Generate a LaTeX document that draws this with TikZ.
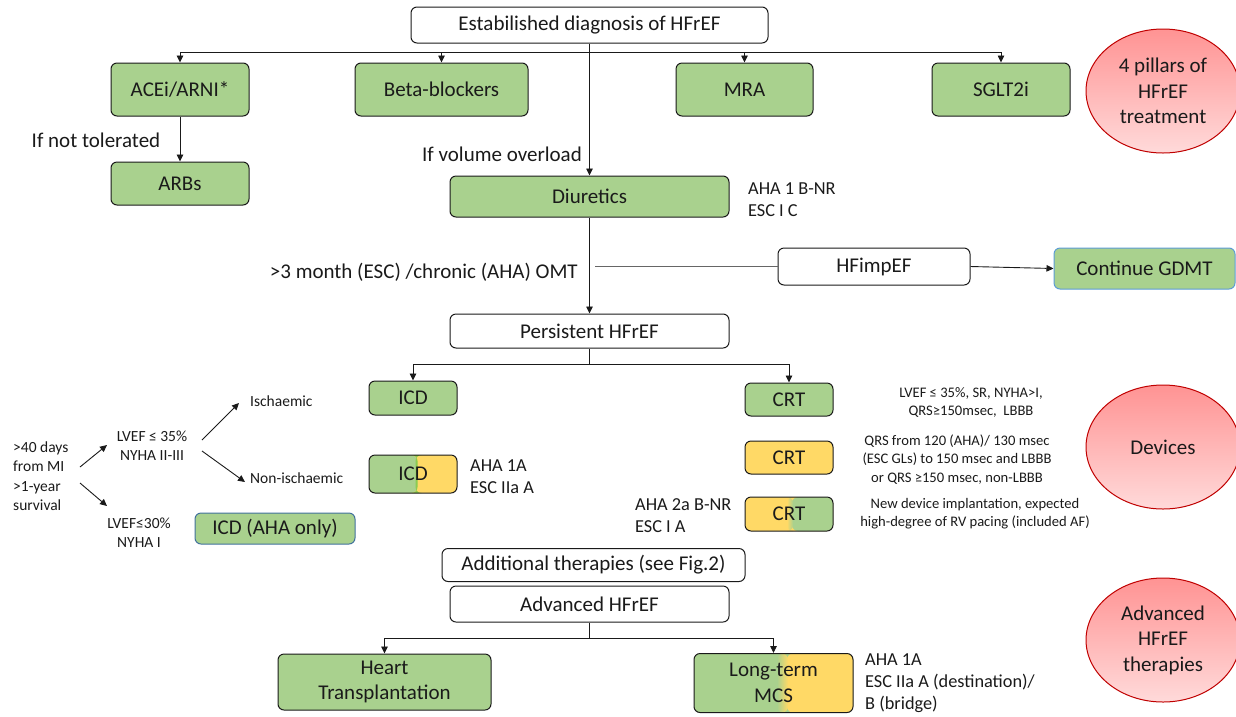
\documentclass[tikz,border=0pt]{standalone}
\usepackage{fontspec}
\setmainfont{Carlito}
\usetikzlibrary{arrows.meta,shapes.geometric}
\definecolor{gfill}{HTML}{A9D18E}
\definecolor{yfill}{HTML}{FFD966}
\definecolor{bgreen}{HTML}{8CCB50}
\definecolor{redtop}{HTML}{FF9393}
\definecolor{redbot}{HTML}{FFDADA}
\definecolor{redline}{HTML}{C00000}
\definecolor{blueline}{HTML}{5B9BD5}
\definecolor{blueline2}{HTML}{41719C}
\definecolor{ink}{HTML}{1A1A1A}
\newcommand\fmain{\fontsize{21}{25.6}\selectfont}
\newcommand\fann{\fontsize{18.3}{22}\selectfont}
\newcommand\fleft{\fontsize{15.5}{19.4}\selectfont}
\newcommand\fsmall{\fontsize{14.6}{18.2}\selectfont}
\tikzset{
  box/.style={draw=ink, line width=1pt, rounded corners=6pt, align=center, inner sep=0pt, font=\fmain, text=ink},
  wbox/.style={box, fill=white},
  gbox/.style={box, fill=gfill},
  ybox/.style={box, fill=yfill},
  arr/.style={line width=0.9pt, draw=ink, -{Triangle[length=7pt,width=6.5pt]}},
  ln/.style={line width=0.9pt, draw=ink},
  ann/.style={font=\fann, align=left, inner sep=0pt, text=ink},
  lft/.style={font=\fleft, align=center, inner sep=0pt, text=ink},
  sml/.style={font=\fsmall, align=center, inner sep=0pt, text=ink},
  lbl/.style={font=\fmain, inner sep=0pt, text=ink},
  pill/.style={ellipse, draw=redline, line width=1pt, top color=redtop, bottom color=redbot,
    minimum width=154pt, minimum height=124pt, inner sep=0pt, align=center, font=\fmain, text=ink}
}
\begin{document}
\begin{tikzpicture}[x=1pt,y=-1pt]
\useasboundingbox (0,0) rectangle (1236,716);
% top section
\node[wbox, minimum width=357pt, minimum height=36pt] (top) at (589.5,25) {Estabilished diagnosis of HFrEF};
\node[gbox, minimum width=138pt, minimum height=53pt] (acei) at (180,89.5) {ACEi/ARNI*};
\node[gbox, minimum width=173pt, minimum height=53pt] (beta) at (441.5,89.5) {Beta-blockers};
\node[gbox, minimum width=137pt, minimum height=53pt] (mra) at (744.5,89.5) {MRA};
\node[gbox, minimum width=138pt, minimum height=53pt] (sglt) at (1001,89.5) {SGLT2i};
\node[gbox, minimum width=138pt, minimum height=43pt] (arbs) at (180,183.5) {ARBs};
\node[gbox, minimum width=279pt, minimum height=41pt] (diur) at (589.5,196.5) {Diuretics};
\node[lbl] (nottol) at (96,140) {If not tolerated};
\node[lbl, anchor=east] (volov) at (582,154) {If volume overload};
\node[ann, anchor=west] (diurann) at (748,200) {AHA 1 B-NR\\ESC I C};

\coordinate (hl) at (589.5,52);
\draw[ln] (acei.north |- hl) -- (sglt.north |- hl);
\draw[arr] (acei.north |- hl) -- (acei.north);
\draw[arr] (beta.north |- hl) -- (beta.north);
\draw[arr] (mra.north |- hl) -- (mra.north);
\draw[arr] (sglt.north |- hl) -- (sglt.north);
\draw[arr] (top.south) -- (diur.north);
\draw[arr] (acei.south) -- (arbs.north);

% OMT row
\node[wbox, minimum width=192pt, minimum height=37pt] (hfimp) at (874,266.5) {HFimpEF};
\node[gbox, draw=blueline, minimum width=181pt, minimum height=41pt] (gdmt) at (1144.5,268.5) {Continue GDMT};
\node[lbl, anchor=east] (omt) at (578,272) {>3 month (ESC) /chronic (AHA) OMT};
\node[wbox, minimum width=279pt, minimum height=34pt] (pers) at (589.5,331) {Persistent HFrEF};
\coordinate (hstart) at (595,266.5);
\draw[line width=1pt, draw=black!60] (hstart) -- (hfimp.west);
\draw[arr] (hfimp.east) -- (gdmt.west);
\draw[arr] (diur.south) -- (pers.north);

% devices
\node[gbox, minimum width=88pt, minimum height=34pt] (icd) at (413,398) {ICD};
\node[gbox, minimum width=88pt, minimum height=33pt] (crt1) at (789,399.5) {CRT};
\node[ybox, minimum width=88pt, minimum height=33pt] (crt2) at (789,457.5) {CRT};
\node[box, minimum width=88pt, minimum height=34pt,
  path picture={
    \fill[yfill] (path picture bounding box.south west) rectangle (path picture bounding box.north east);
    \fill[gfill] ([xshift=47pt]path picture bounding box.south west) rectangle (path picture bounding box.north east);
    \shade[left color=yfill, right color=gfill] ([xshift=42pt]path picture bounding box.south west) rectangle ([xshift=48pt]path picture bounding box.north west);
  }] (crt3) at (789,514) {CRT};
\node[box, minimum width=88pt, minimum height=38pt,
  path picture={
    \fill[yfill] (path picture bounding box.south west) rectangle (path picture bounding box.north east);
    \fill[gfill] (path picture bounding box.south west) rectangle ([xshift=48pt]path picture bounding box.north west);
    \fill[bgreen] ([xshift=46.5pt]path picture bounding box.south west) rectangle ([xshift=48.5pt]path picture bounding box.north west);
  }] (icd2) at (413,474) {ICD};
\node[gbox, draw=blueline2, minimum width=160pt, minimum height=31pt] (icdaha) at (275,528.5) {ICD (AHA only)};

\coordinate (ph) at (592,364);
\draw[ln] (pers.south) -- (pers.south |- ph);
\draw[ln] (icd.north |- ph) -- (crt1.north |- ph);
\draw[arr] (icd.north |- ph) -- (icd.north);
\draw[arr] (crt1.north |- ph) -- (crt1.north);

\node[ann, anchor=west] (icdann) at (470,477) {AHA 1A\\ESC IIa A};
\node[ann, anchor=west] (crtann) at (635,516) {AHA 2a B-NR\\ESC I A};
\node[sml] (crtd1) at (971,402.5) {LVEF ≤ 35\%, SR, NYHA>I,\\QRS≥150msec,\ \ LBBB};
\node[sml] (crtd2) at (957,459.5) {QRS from 120 (AHA)/ 130 msec\\(ESC GLs) to 150 msec and LBBB\\or QRS ≥150 msec, non-LBBB};
\node[sml] (crtd3) at (975,514) {New device implantation, expected\\high-degree of RV pacing (included AF)};

% left criteria
\node[lft, align=left, anchor=west] (mi) at (13,476) {>40 days\\from MI\\>1-year\\survival};
\node[lft] (lv35) at (152,445.5) {LVEF ≤ 35\%\\NYHA II-III};
\node[lft] (lv30) at (139,533) {LVEF≤30\%\\NYHA I};
\node[lft, anchor=west] (isch) at (250,401) {Ischaemic};
\node[lft, anchor=west] (nonisch) at (250,478) {Non-ischaemic};
\coordinate (a1s) at (80,467); \coordinate (a1e) at (107,445);
\coordinate (a2s) at (80,483); \coordinate (a2e) at (107,506);
\coordinate (a3s) at (202,440); \coordinate (a3e) at (239,403);
\coordinate (a4s) at (202,451); \coordinate (a4e) at (245,482);
\draw[arr] (a1s) -- (a1e);
\draw[arr] (a2s) -- (a2e);
\draw[arr] (a3s) -- (a3e);
\draw[arr] (a4s) -- (a4e);

% advanced
\node[wbox, minimum width=303pt, minimum height=33pt] (addit) at (593.5,565) {Additional therapies (see Fig.2)};
\node[wbox, minimum width=279pt, minimum height=36pt] (adv) at (589.5,604) {Advanced HFrEF};
\node[gbox, minimum width=213pt, minimum height=56pt] (heart) at (384.5,682) {Heart\\Transplantation};
\node[box, minimum width=159pt, minimum height=59pt,
  path picture={
    \fill[gfill] (path picture bounding box.south west) rectangle (path picture bounding box.north east);
    \fill[yfill] ([xshift=93pt]path picture bounding box.south west) rectangle (path picture bounding box.north east);
    \shade[left color=gfill, right color=yfill] ([xshift=83pt]path picture bounding box.south west) rectangle ([xshift=94pt]path picture bounding box.north west);
  }] (mcs) at (773.5,683) {Long-term\\MCS};
\node[ann, anchor=west] (mcsann) at (865,683) {AHA 1A\\ESC IIa A (destination)/\\B (bridge)};
\coordinate (ah) at (589.5,638);
\draw[ln] (adv.south) -- (ah);
\draw[ln] (heart.north |- ah) -- (mcs.north |- ah);
\draw[arr] (heart.north |- ah) -- (heart.north);
\draw[arr] (mcs.north |- ah) -- (mcs.north);

% pillars
\node[pill] (p1) at (1163,91) {4 pillars of\\HFrEF\\treatment};
\node[pill] (p2) at (1163,447) {Devices};
\node[pill] (p3) at (1163,640) {Advanced\\HFrEF\\therapies};
\end{tikzpicture}
\end{document}
